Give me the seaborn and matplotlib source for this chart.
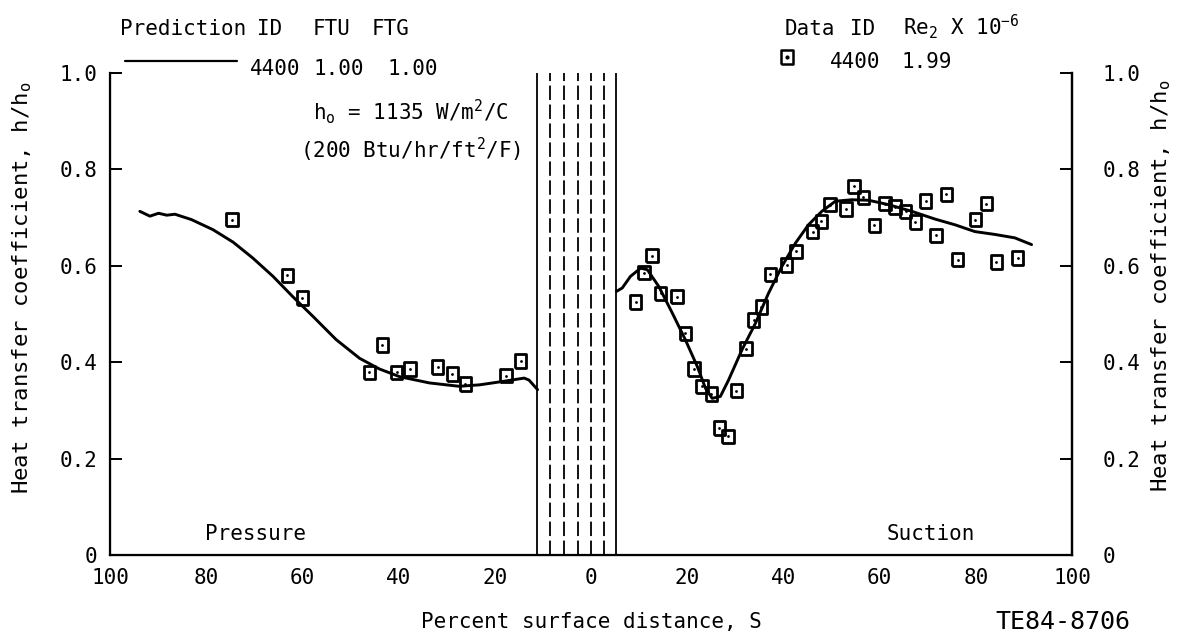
import matplotlib
matplotlib.use("Agg")
import matplotlib.pyplot as plt
from matplotlib.lines import Line2D
import seaborn as sns
import pandas as pd

# ---- data (signed surface distance: pressure side negative) ----
pred_pressure_s = [-93.8, -91.7, -89.9, -88.2, -86.5, -83.1, -78.6, -74.4, -70.3, -66.1, -62.0,
                   -57.8, -53.0, -48.1, -44.0, -39.8, -33.6, -27.4, -23.2, -18.4, -13.9, -12.9, -11.1]
pred_pressure_h = [0.713, 0.703, 0.709, 0.705, 0.707, 0.696, 0.675, 0.649, 0.616, 0.578, 0.536,
                   0.495, 0.447, 0.408, 0.386, 0.370, 0.357, 0.350, 0.353, 0.360, 0.367, 0.363, 0.343]

pred_suction_s = [5.3, 6.5, 8.2, 10.3, 11.7, 14.1, 16.9, 19.6, 22.1, 23.8, 25.2, 26.9, 28.6, 31.4,
                  34.2, 36.9, 39.7, 42.5, 45.2, 48.0, 50.8, 54.2, 57.7, 61.8, 66.7, 71.5, 75.7,
                  79.8, 84.0, 88.1, 91.6]
pred_suction_h = [0.547, 0.554, 0.578, 0.595, 0.592, 0.557, 0.502, 0.447, 0.391, 0.346, 0.325,
                  0.329, 0.363, 0.426, 0.481, 0.543, 0.599, 0.647, 0.685, 0.713, 0.734, 0.737,
                  0.736, 0.727, 0.713, 0.697, 0.685, 0.671, 0.665, 0.658, 0.644]

data_pressure_s = [-74.6, -63.1, -60.0, -46.1, -43.4, -40.4, -37.6, -31.9, -28.8, -26.1, -17.7, -14.6]
data_pressure_h = [0.696, 0.580, 0.533, 0.379, 0.436, 0.379, 0.386, 0.390, 0.376, 0.355, 0.372, 0.402]

data_suction_s = [9.3, 11.0, 12.7, 14.5, 17.9, 19.6, 21.4, 23.1, 25.0, 26.7, 28.5, 30.2, 32.2, 33.8,
                  35.4, 37.3, 40.7, 42.6, 46.1, 47.9, 49.7, 53.0, 54.7, 56.6, 58.9, 61.1, 63.2,
                  65.4, 67.4, 69.6, 71.7, 73.9, 76.2, 79.9, 82.2, 84.3, 88.7]
data_suction_h = [0.525, 0.586, 0.621, 0.543, 0.536, 0.460, 0.386, 0.350, 0.334, 0.263, 0.246,
                  0.341, 0.428, 0.488, 0.514, 0.582, 0.602, 0.630, 0.671, 0.692, 0.727, 0.718,
                  0.765, 0.742, 0.684, 0.729, 0.722, 0.713, 0.691, 0.734, 0.663, 0.748, 0.613,
                  0.696, 0.729, 0.608, 0.616]

solid_lines = [-11.2, 5.3]
dashed_lines = [-8.5, -5.6, -2.8, 0.0, 2.7]

x_ticks = [-100, -80, -60, -40, -20, 0, 20, 40, 60, 80, 100]
x_tick_labels = ["100", "80", "60", "40", "20", "0", "20", "40", "60", "80", "100"]
y_ticks = [0, 0.2, 0.4, 0.6, 0.8, 1.0]
y_tick_labels = ["0", "0.2", "0.4", "0.6", "0.8", "1.0"]

# ---- style ----
sns.set_style("white")
plt.rcParams["font.family"] = ["DejaVu Sans Mono", "DejaVu Sans"]
plt.rcParams["mathtext.fontset"] = "custom"
plt.rcParams["mathtext.rm"] = "DejaVu Sans Mono"
plt.rcParams["mathtext.it"] = "DejaVu Sans Mono"
plt.rcParams["mathtext.bf"] = "DejaVu Sans Mono"
for key in ["text.color", "axes.labelcolor", "xtick.color", "ytick.color", "axes.edgecolor"]:
    plt.rcParams[key] = "black"

W, H = 1183, 641
fig = plt.figure(figsize=(W / 100, H / 100), dpi=100)
ax = fig.add_axes([110 / W, 1 - 555 / H, 962 / W, 482 / H])

def fx(x):
    return x / W

def fy(y):
    return 1 - y / H

FS = 15
LW = 2.1

pred = pd.concat([
    pd.DataFrame({"s": pred_pressure_s, "h": pred_pressure_h, "side": "pressure"}),
    pd.DataFrame({"s": pred_suction_s, "h": pred_suction_h, "side": "suction"}),
])
meas = pd.DataFrame({"s": data_pressure_s + data_suction_s,
                     "h": data_pressure_h + data_suction_h})

sns.lineplot(data=pred, x="s", y="h", units="side", estimator=None, sort=False,
             color="black", lw=LW, ax=ax, legend=False)

rect = [(-0.42, -0.5), (0.42, -0.5), (0.42, 0.5), (-0.42, 0.5), (-0.42, -0.5)]
sns.scatterplot(data=meas, x="s", y="h", marker=rect, s=95, facecolor="none",
                edgecolor="black", linewidth=2.0, ax=ax, legend=False, zorder=3)
sns.scatterplot(data=meas, x="s", y="h", marker="o", s=4, color="black",
                edgecolor="black", linewidth=0, ax=ax, legend=False, zorder=4)

for xv in solid_lines:
    ax.axvline(xv, color="black", lw=1.3)
for xv in dashed_lines:
    ax.axvline(xv, color="black", lw=1.3, linestyle=(0, (8, 2.5)))

ax.set_xlim(-100, 100)
ax.set_ylim(0, 1)
ax.set_xticks(x_ticks)
ax.set_xticklabels(x_tick_labels, fontsize=FS)
ax.set_yticks(y_ticks)
ax.set_yticklabels(y_tick_labels, fontsize=FS)
ax.tick_params(axis="both", direction="in", length=8.5, width=1.4, color="black",
               labelcolor="black")
ax.tick_params(axis="x", pad=9)
ax.tick_params(axis="y", pad=9)
for sp in ["left", "bottom", "right"]:
    ax.spines[sp].set_visible(True)
    ax.spines[sp].set_color("black")
    ax.spines[sp].set_linewidth(1.6)
ax.spines["top"].set_visible(False)

ax.set_xlabel("Percent surface distance, S", fontsize=FS, va="center", color="black")
ax.xaxis.set_label_coords(0.5, -0.139)
ax.set_ylabel("Heat transfer coefficient, h/h$_o$", fontsize=16, va="center", ha="center",
              color="black")
ax.yaxis.set_label_coords(-0.0915, 0.554)

ax2 = ax.twinx()
ax2.set_ylim(0, 1)
ax2.set_yticks(y_ticks)
ax2.set_yticklabels(y_tick_labels, fontsize=FS)
ax2.tick_params(axis="y", direction="in", length=8.5, width=1.4, color="black",
                labelcolor="black", pad=22)
ax2.spines["top"].set_visible(False)
ax2.spines["right"].set_color("black")
ax2.spines["right"].set_linewidth(1.6)
ax2.set_ylabel("Heat transfer coefficient, h/h$_o$", fontsize=16, va="center", ha="center",
               rotation=90, color="black")
ax2.yaxis.set_label_coords(1.0925, 0.558)

# ---- header legends ----
def ftext(x, y, s, **kw):
    kw.setdefault("fontsize", FS)
    kw.setdefault("va", "baseline")
    kw.setdefault("ha", "left")
    kw.setdefault("color", "black")
    fig.text(fx(x), fy(y), s, **kw)

ftext(120, 35, "Prediction")
ftext(257, 35, "ID")
ftext(313, 35, "FTU")
ftext(372, 35, "FTG")
fig.add_artist(Line2D([fx(125), fx(237)], [fy(61), fy(61)], color="black", lw=1.6))
ftext(250, 75, "4400")
ftext(313, 75, "1.00")
ftext(388, 75, "1.00")

ftext(785, 35, "Data")
ftext(850, 35, "ID")
ftext(903, 35, "Re$_2$ X 10$^{-6}$")
fig.add_artist(Line2D([fx(787)], [fy(57)], marker=rect, markersize=9.5, mfc="none",
                      mec="black", mew=1.8, ls="none"))
fig.add_artist(Line2D([fx(787)], [fy(57)], marker="o", markersize=2, color="black", ls="none"))
ftext(830, 68, "4400")
ftext(902, 68, "1.99")

ftext(313, 120, "h$_o$ = 1135 W/m$^2$/C")
ftext(300, 158, "(200 Btu/hr/ft$^2$/F)")

ftext(205, 540, "Pressure")
ftext(887, 540, "Suction")
ftext(995, 622, "TE84-8706", fontsize=18, va="center")

fig.savefig("out.png", dpi=100, facecolor="white")
